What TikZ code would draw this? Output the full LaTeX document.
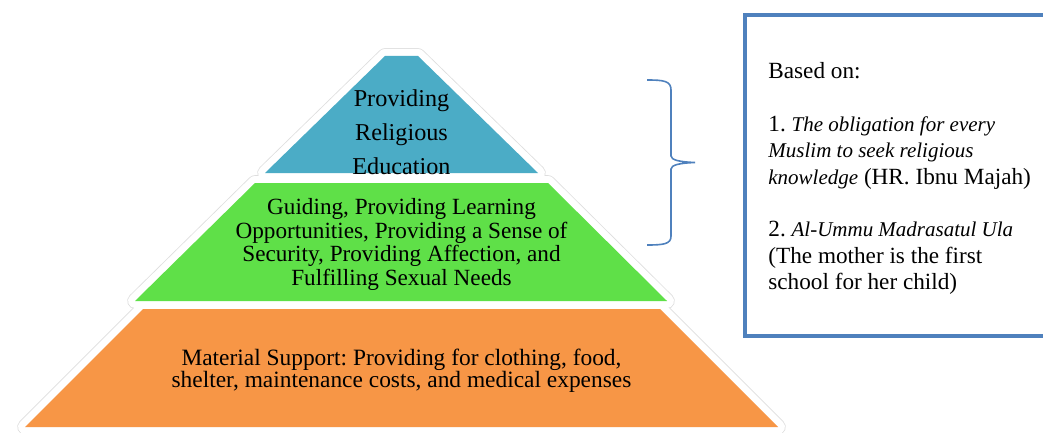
\documentclass[tikz,border=0pt]{standalone}
\usepackage{fontspec}
\setmainfont{Liberation Serif}
\frenchspacing
\definecolor{tierA}{HTML}{4BACC6}
\definecolor{tierB}{HTML}{5FE048}
\definecolor{tierC}{HTML}{F79646}
\definecolor{frame}{HTML}{4F81BD}
\tikzset{
  sh/.style={draw=black!13,fill=black!13,line width=7.8pt,line join=round,shift={(1.2,1.8)}},
  rim/.style={draw=white,fill=white,line width=7pt,line join=round},
  lbl/.style={align=center,inner sep=0pt,text=black},
  brc/.style={draw=frame,line width=0.8pt},
  bx/.style={draw=frame,line width=2.3pt}
}
\newcommand{\src}[1]{{\fontsize{10.5}{13.2}\selectfont\itshape #1}}

\begin{document}
\begin{tikzpicture}[x=0.5pt,y=-0.5pt]
\useasboundingbox (0,0) rectangle (1043,433);
% tiers, top to bottom
\coordinate (A1) at (385,56);  \coordinate (A2) at (418,56);  \coordinate (A3) at (538,173); \coordinate (A4) at (265,173);
\coordinate (B1) at (255,183); \coordinate (B2) at (548,183); \coordinate (B3) at (667,301); \coordinate (B4) at (135,301);
\coordinate (C1) at (143,309); \coordinate (C2) at (660,309); \coordinate (C3) at (778,427); \coordinate (C4) at (25,427);
\foreach \t in {C,B,A} \path[sh] (\t1) -- (\t2) -- (\t3) -- (\t4) -- cycle;
\foreach \t in {C,B,A} \path[rim] (\t1) -- (\t2) -- (\t3) -- (\t4) -- cycle;
\foreach \t in {C,B,A} \fill[tier\t] (\t1) -- (\t2) -- (\t3) -- (\t4) -- cycle;
\node[lbl,font=\fontsize{12.1}{16.9}\selectfont] (relig) at (401.5,132.5) {Providing\\Religious\\Education};
\node[lbl,font=\fontsize{11.6}{11.8}\selectfont] (care) at (401.5,244.5) {Guiding, Providing Learning\\Opportunities, Providing a Sense of\\Security, Providing Affection, and\\Fulfilling Sexual Needs};
\node[lbl,font=\fontsize{11.7}{11}\selectfont] (material) at (401.5,371) {Material Support: Providing for clothing, food,\\shelter, maintenance costs, and medical expenses};
% brace next to the two upper tiers
\coordinate (brtop) at (647,80); \coordinate (brtip) at (695,162.5); \coordinate (brbot) at (647,245);
\draw[brc] (brtop) .. controls (664,80) and (671,81) .. (671,90) -- (671,156)
  .. controls (671,160) and (680,162) .. (brtip)
  .. controls (680,163) and (671,165) .. (671,169) -- (671,236)
  .. controls (671,244) and (664,245) .. (brbot);
% source box
\draw[bx] (745,15) rectangle (1070,336);
\node[anchor=north west,align=left,inner sep=0pt,font=\fontsize{11.6}{13.2}\selectfont] (basis) at (768,62)
  {Based on:\\[13.2pt]
   1. \src{The obligation for every}\\
   \src{Muslim to seek religious}\\
   \src{knowledge} (HR. Ibnu Majah)\\[13.2pt]
   2. \src{Al-Ummu Madrasatul Ula}\\
   (The mother is the first\\
   school for her child)};
\end{tikzpicture}
\end{document}
